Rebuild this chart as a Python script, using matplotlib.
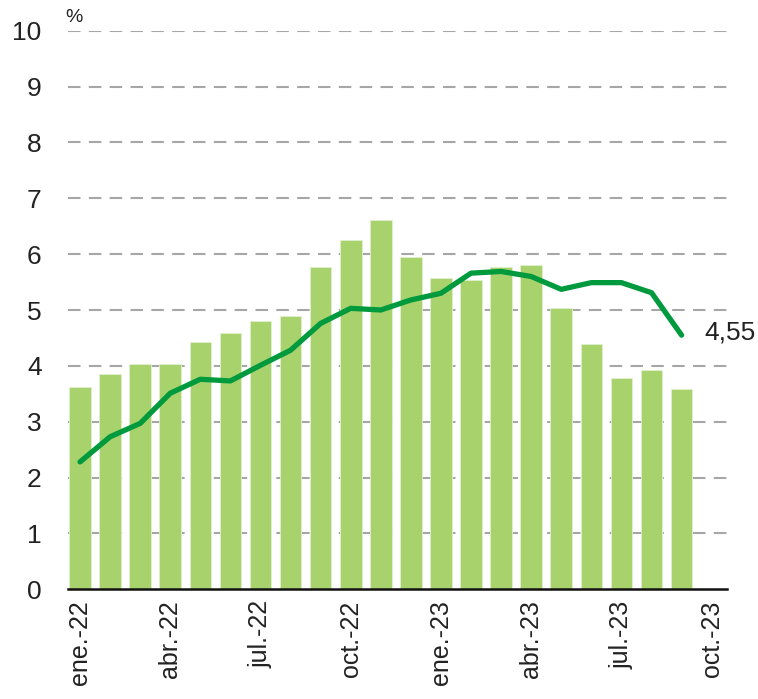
import matplotlib
matplotlib.use("Agg")
import matplotlib.pyplot as plt
import numpy as np

plt.rcParams["font.family"] = ["Liberation Sans", "DejaVu Sans"]

months = ["ene.-22", "feb.-22", "mar.-22", "abr.-22", "may.-22", "jun.-22", "jul.-22",
          "ago.-22", "sep.-22", "oct.-22", "nov.-22", "dic.-22", "ene.-23", "feb.-23",
          "mar.-23", "abr.-23", "may.-23", "jun.-23", "jul.-23", "ago.-23", "sep.-23"]
bar_values = [3.63, 3.85, 4.04, 4.04, 4.43, 4.58, 4.81, 4.89, 5.77, 6.26, 6.61,
              5.95, 5.57, 5.54, 5.77, 5.80, 5.04, 4.39, 3.78, 3.92, 3.58]
line_values = [2.28, 2.73, 2.97, 3.51, 3.76, 3.73, 4.01, 4.28, 4.76, 5.03, 5.00,
               5.18, 5.30, 5.66, 5.69, 5.60, 5.37, 5.49, 5.49, 5.31, 4.55]
tick_labels = ["ene.-22", "abr.-22", "jul.-22", "oct.-22",
               "ene.-23", "abr.-23", "jul.-23", "oct.-23"]

fig = plt.figure(figsize=(7.58, 6.99), dpi=100)
ax = fig.add_axes([0.0897, 0.157, 0.869, 0.799])

x = np.arange(len(months))
ax.bar(x, bar_values, width=0.72, color="#a8d26c", edgecolor="#e2f0cf", linewidth=0.6, zorder=2)
ax.plot(x, line_values, color="#009a3e", linewidth=3.8, solid_capstyle="round",
        solid_joinstyle="round", zorder=3)

ax.text(x[-1] + 0.75, line_values[-1] + 0.05, "4,55", fontsize=19,
        va="center", ha="left", color="#222222")

ax.set_ylim(0, 10)
ax.set_xlim(-0.4, 21.5)
ax.set_yticks(range(0, 11))
ax.set_yticklabels([str(v) for v in range(0, 11)], fontsize=19)
tick_pos = [i * 3 for i in range(len(tick_labels))]
ax.set_xticks(tick_pos)
ax.set_xticklabels(tick_labels, rotation=90, fontsize=18)
ax.tick_params(axis="both", length=0, colors="#222222")
ax.tick_params(axis="y", pad=19)
ax.tick_params(axis="x", pad=8)

for v in range(1, 11):
    ax.axhline(v, color="#a6a6a6", linewidth=1.5, linestyle=(0, (6, 4)), zorder=1)

for s in ["top", "right", "left"]:
    ax.spines[s].set_visible(False)
ax.spines["bottom"].set_color("#111111")
ax.spines["bottom"].set_linewidth(1.8)
ax.spines["bottom"].set_zorder(4)

fig.text(65 / 758, 1 - 17 / 699, "%", fontsize=14, va="center", ha="left", color="#222222")

fig.savefig("out.png", dpi=100)
